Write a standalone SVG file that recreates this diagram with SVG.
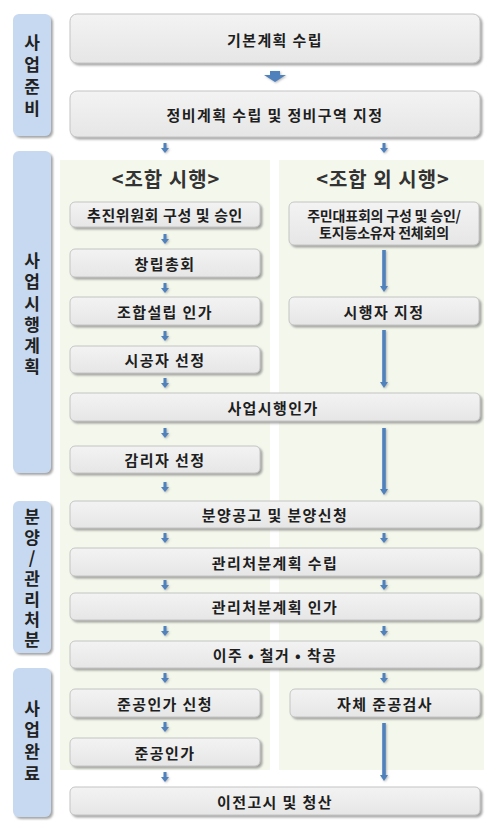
<svg xmlns="http://www.w3.org/2000/svg" width="494" height="828" viewBox="0 0 494 828">
<defs>
<filter id="sh" x="-10%" y="-30%" width="120%" height="170%">
<feDropShadow dx="2" dy="2" stdDeviation="1.2" flood-color="#7f7f7f" flood-opacity="0.7"/>
</filter>
<filter id="ash" filterUnits="userSpaceOnUse" x="0" y="0" width="494" height="828">
<feDropShadow dx="1" dy="1" stdDeviation="0.8" flood-color="#8a8a8a" flood-opacity="0.6"/>
</filter>
<linearGradient id="bg" x1="0" y1="0" x2="0" y2="1">
<stop offset="0" stop-color="#f3f3f3"/>
<stop offset="1" stop-color="#e6e6e6"/>
</linearGradient>
<path id="sa" d="M-1.5,0 H1.5 V5 H4 L0,10 L-4,5 H-1.5 Z"/>
</defs>
<style>
.lab{fill:#c6d9f1;filter:url(#sh)}
.box{fill:url(#bg);stroke:#c4c4c4;stroke-width:1;filter:url(#sh)}
.t{font-family:"Noto Sans CJK KR","Noto Sans",sans-serif;font-weight:bold;font-size:15px;fill:#1e1e1e;text-anchor:middle;dominant-baseline:central;letter-spacing:1.4px}
.t2{font-family:"Noto Sans CJK KR","Noto Sans",sans-serif;font-weight:bold;font-size:14px;fill:#1e1e1e;text-anchor:middle;dominant-baseline:central;letter-spacing:-0.2px}
.lt{font-family:"Noto Sans CJK KR","Noto Sans",sans-serif;font-weight:bold;font-size:17px;fill:#222;text-anchor:middle;dominant-baseline:central}
.hd{font-family:"Noto Sans CJK KR","Noto Sans",sans-serif;font-weight:bold;font-size:20px;fill:#333;text-anchor:middle;dominant-baseline:central;letter-spacing:1px}
.ar{fill:#4f81bd}
.bgz{fill:#f4f8ec}
</style>

<g id="backgrounds">
<rect class="bgz" x="60" y="160" width="210" height="610"/>
<rect class="bgz" x="279" y="160" width="205" height="610"/>
</g>

<g id="stage-prep"><rect class="lab" x="13" y="14" width="38" height="122" rx="6"/>
<text class="lt"><tspan x="32" y="41">사</tspan><tspan x="32" y="63">업</tspan><tspan x="32" y="85">준</tspan><tspan x="32" y="107">비</tspan></text></g>
<g id="stage-plan"><rect class="lab" x="13" y="151" width="38" height="322" rx="6"/>
<text class="lt"><tspan x="32" y="259">사</tspan><tspan x="32" y="280">업</tspan><tspan x="32" y="301.5">시</tspan><tspan x="32" y="322.5">행</tspan><tspan x="32" y="344">계</tspan><tspan x="32" y="365">획</tspan></text></g>
<g id="stage-sale"><rect class="lab" x="13" y="501" width="38" height="152" rx="6"/>
<text class="lt"><tspan x="32" y="515">분</tspan><tspan x="32" y="536">양</tspan><tspan x="32" y="556">/</tspan><tspan x="32" y="577">관</tspan><tspan x="32" y="598">리</tspan><tspan x="32" y="618">처</tspan><tspan x="32" y="638">분</tspan></text></g>
<g id="stage-done"><rect class="lab" x="13" y="668" width="38" height="149" rx="6"/>
<text class="lt"><tspan x="32" y="707">사</tspan><tspan x="32" y="728">업</tspan><tspan x="32" y="750">완</tspan><tspan x="32" y="772">료</tspan></text></g>

<g id="header-left"><text class="hd" x="166" y="178">&lt;조합 시행&gt;</text></g>
<g id="header-right"><text class="hd" x="383" y="178">&lt;조합 외 시행&gt;</text></g>

<g id="n1"><rect class="box" x="70" y="14" width="410" height="49" rx="7"/><text class="t" x="275" y="39">기본계획 수립</text></g>
<g id="n2"><rect class="box" x="70" y="91" width="410" height="46" rx="7"/><text class="t" x="275" y="114">정비계획 수립 및 정비구역 지정</text></g>
<g id="n3"><rect class="box" x="70" y="202" width="190" height="25" rx="5"/><text class="t" x="165" y="214.5" style="letter-spacing:0.6px">추진위원회 구성 및 승인</text></g>
<g id="n4"><rect class="box" x="70" y="249" width="190" height="28" rx="5"/><text class="t" x="165" y="263">창립총회</text></g>
<g id="n5"><rect class="box" x="70" y="297" width="190" height="28" rx="5"/><text class="t" x="165" y="311">조합설립 인가</text></g>
<g id="n6"><rect class="box" x="70" y="346" width="190" height="27" rx="5"/><text class="t" x="165" y="359.5">시공자 선정</text></g>
<g id="n7"><rect class="box" x="70" y="393" width="410" height="28" rx="5"/><text class="t" x="273" y="407">사업시행인가</text></g>
<g id="n8"><rect class="box" x="70" y="446" width="190" height="27" rx="5"/><text class="t" x="165" y="459.5">감리자 선정</text></g>
<g id="n9"><rect class="box" x="70" y="501" width="410" height="27" rx="5"/><text class="t" x="275" y="514.5">분양공고 및 분양신청</text></g>
<g id="n10"><rect class="box" x="70" y="548" width="410" height="28" rx="5"/><text class="t" x="275" y="562">관리처분계획 수립</text></g>
<g id="n11"><rect class="box" x="70" y="593" width="410" height="27" rx="5"/><text class="t" x="275" y="606.5">관리처분계획 인가</text></g>
<g id="n12"><rect class="box" x="70" y="641" width="410" height="27" rx="5"/><text class="t" x="275" y="654.5">이주 • 철거 • 착공</text></g>
<g id="n13"><rect class="box" x="70" y="689" width="190" height="28" rx="5"/><text class="t" x="165" y="703">준공인가 신청</text></g>
<g id="n14"><rect class="box" x="70" y="738" width="190" height="28" rx="5"/><text class="t" x="165" y="752">준공인가</text></g>
<g id="n15"><rect class="box" x="70" y="787" width="410" height="28" rx="5"/><text class="t" x="275" y="801">이전고시 및 청산</text></g>
<g id="r1"><rect class="box" x="289" y="202" width="190" height="43" rx="5"/><text class="t2" x="384" y="215">주민대표회의 구성 및 승인/</text><text class="t2" x="384" y="232">토지등소유자 전체회의</text></g>
<g id="r2"><rect class="box" x="289" y="297" width="190" height="28" rx="5"/><text class="t" x="384" y="311">시행자 지정</text></g>
<g id="r3"><rect class="box" x="290" y="689" width="190" height="28" rx="5"/><text class="t" x="385" y="703">자체 준공검사</text></g>

<g id="connectors" filter="url(#ash)">
<polygon class="ar" points="270,71 280,71 280,75 286,75 275,82 264,75 270,75"/>
<use href="#sa" class="ar" x="165" y="143"/>
<use href="#sa" class="ar" x="384" y="143"/>
<use href="#sa" class="ar" x="165" y="234"/>
<use href="#sa" class="ar" x="165" y="283"/>
<use href="#sa" class="ar" x="165" y="331"/>
<use href="#sa" class="ar" x="165" y="378"/>
<use href="#sa" class="ar" x="165" y="428"/>
<use href="#sa" class="ar" x="165" y="482"/>
<use href="#sa" class="ar" x="165" y="533"/>
<use href="#sa" class="ar" x="384" y="533"/>
<use href="#sa" class="ar" x="165" y="580"/>
<use href="#sa" class="ar" x="384" y="580"/>
<use href="#sa" class="ar" x="165" y="626"/>
<use href="#sa" class="ar" x="384" y="626"/>
<use href="#sa" class="ar" x="165" y="673"/>
<use href="#sa" class="ar" x="384" y="673"/>
<use href="#sa" class="ar" x="165" y="722"/>
<use href="#sa" class="ar" x="165" y="772"/>
<path class="ar" d="M382.2,250 H385.8 V286 H388 L384,292 L380,286 H382.2 Z"/>
<path class="ar" d="M382.2,330 H385.8 V382 H388 L384,388 L380,382 H382.2 Z"/>
<path class="ar" d="M382.2,428 H385.8 V489 H388 L384,495 L380,489 H382.2 Z"/>
<path class="ar" d="M382.2,723 H385.8 V775 H388 L384,781 L380,775 H382.2 Z"/>
</g>
</svg>
